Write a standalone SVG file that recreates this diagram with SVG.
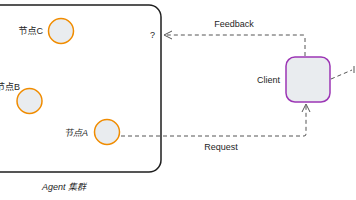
<svg xmlns="http://www.w3.org/2000/svg" width="356" height="200" viewBox="0 0 356 200">
<defs>
<style>
.t{font-family:"Liberation Sans","Noto Sans CJK SC",sans-serif;font-size:9px;fill:#1e1e1e}
.agent{fill:#e9ecef;stroke:#f08c00;stroke-width:1.5}
.client{fill:#e9ecef;stroke:#9c36b5;stroke-width:1.5}
.dash{fill:none;stroke:#555;stroke-width:1;stroke-dasharray:4 3}
.head{fill:none;stroke:#555;stroke-width:1}
</style>
</defs>
<rect width="356" height="200" fill="#ffffff"/>
<g id="cluster">
<rect x="-20" y="5" width="181" height="167" rx="12" fill="none" stroke="#1e1e1e" stroke-width="1.5"/>
<text class="t" x="42" y="190" font-style="italic">Agent 集群</text>
<text class="t" x="150" y="38">?</text>
</g>
<g id="nodeC">
<circle class="agent" cx="61" cy="31" r="12.5"/>
<text class="t" x="43" y="34" text-anchor="end">节点C</text>
</g>
<g id="nodeB">
<circle class="agent" cx="29.5" cy="101" r="12.5"/>
<text class="t" x="20" y="90" text-anchor="end">节点B</text>
</g>
<g id="nodeA">
<circle class="agent" cx="107" cy="132" r="12.5"/>
<text class="t" x="88" y="136" text-anchor="end" font-style="italic">节点A</text>
</g>
<g id="client">
<rect class="client" x="286" y="57" width="44" height="45" rx="9"/>
<text class="t" x="280" y="83" text-anchor="end">Client</text>
</g>
<g id="connectors">
<path class="dash" d="M305 56 L305 37 Q305 35 303 35 L164 35"/>
<path class="head" d="M172 31 L164 35 L172 39"/>
<text class="t" x="234" y="27" text-anchor="middle">Feedback</text>
<path class="dash" d="M121 136 L304 136 Q306 136 306 134 L306 104"/>
<path class="head" d="M302 112 L306 104 L310 112"/>
<text class="t" x="221" y="150" text-anchor="middle">Request</text>
<path class="dash" d="M331 79 L352 70"/>
<path class="head" d="M354 66 L354 73"/>
</g>
</svg>
